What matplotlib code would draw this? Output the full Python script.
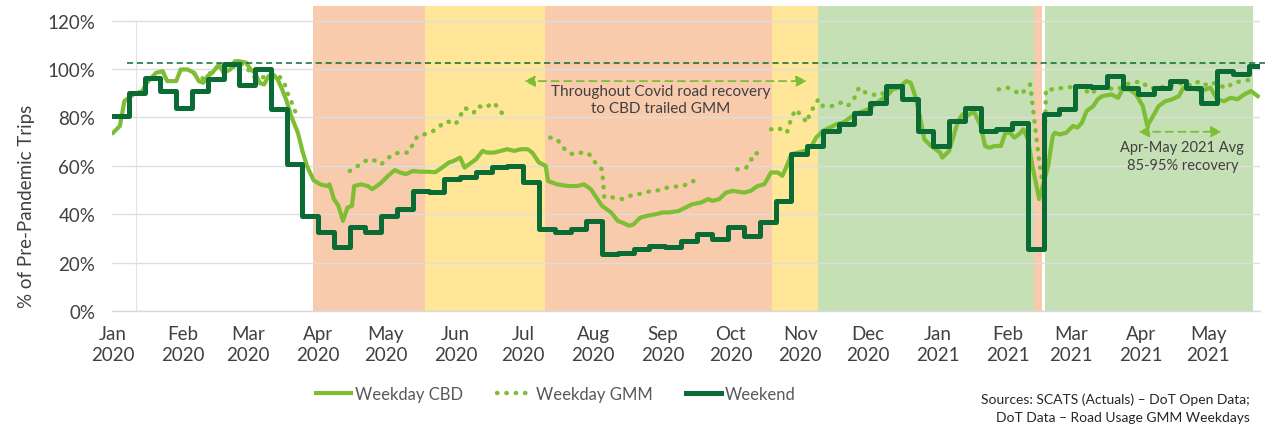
import numpy as np
import pandas as pd
import matplotlib
matplotlib.use("Agg")
import matplotlib.pyplot as plt
from matplotlib.lines import Line2D

plt.rcParams['font.family'] = ['Lato', 'DejaVu Sans']

START = pd.Timestamp('2020-01-01')

# Weekday CBD, day offset from 1 Jan 2020 and % of pre-pandemic trips
cbd_days = [
    0, 3, 5, 9, 13, 15, 19, 22, 24, 28,
    30, 33, 36, 38, 40, 42, 44, 47, 49, 52,
    54, 56, 59, 61, 63, 65, 67, 69, 71, 73,
    75, 77, 79, 82, 84, 86, 89, 92, 95, 96,
    98, 100, 102, 104, 106, 107, 110, 113, 115, 117,
    119, 122, 125, 127, 130, 133, 136, 140, 143, 146,
    149, 151, 154, 156, 158, 161, 164, 166, 169, 172,
    175, 178, 181, 184, 186, 189, 192, 193, 197, 202,
    206, 209, 212, 215, 217, 221, 224, 226, 229, 231,
    234, 237, 241, 244, 247, 251, 254, 257, 261, 264,
    266, 269, 272, 275, 280, 283, 286, 289, 292, 295,
    297, 299, 301, 304, 307, 310, 312, 315, 318, 321,
    324, 327, 331, 335, 337, 340, 344, 346, 349, 352,
    354, 356, 358, 360, 363, 365, 367, 368, 371, 373,
    375, 377, 379, 382, 385, 387, 389, 391, 394, 396,
    398, 400, 402, 404, 406, 408, 411, 415, 417, 418,
    420, 423, 426, 428, 430, 432, 435, 437, 439, 443,
    446, 448, 451, 454, 457, 459, 462, 464, 467, 470,
    473, 475, 478, 481, 483, 487, 490, 493, 496, 499,
    502, 505, 508]
cbd_vals = [
    73.7, 76.5, 86.8, 89.5, 90.9, 94.3, 98.4, 99.1, 95.0, 95.0,
    99.8, 99.8, 98.4, 95.0, 94.3, 97.1, 98.4, 101.9, 98.4, 99.8,
    103.2, 103.2, 102.6, 99.8, 98.4, 94.3, 93.6, 97.1, 97.8, 95.7,
    91.6, 86.8, 80.6, 73.7, 66.2, 60.0, 54.0, 52.4, 51.7, 52.4,
    46.3, 43.5, 37.3, 42.8, 43.5, 51.7, 52.4, 51.7, 50.4, 51.7,
    53.1, 55.9, 58.3, 57.4, 56.6, 57.9, 57.6, 57.6, 57.4, 59.3,
    61.4, 62.0, 63.4, 59.3, 60.7, 62.7, 66.2, 65.5, 65.5, 66.2,
    66.9, 66.2, 66.9, 66.9, 65.5, 61.4, 60.0, 53.8, 52.4, 51.7,
    51.7, 52.4, 50.4, 46.3, 43.5, 40.8, 37.3, 36.6, 35.3, 35.9,
    38.7, 39.4, 40.1, 40.8, 40.8, 41.4, 42.8, 44.2, 44.9, 46.3,
    45.6, 46.3, 49.0, 49.7, 49.0, 49.7, 51.7, 52.4, 57.3, 57.3,
    55.9, 60.0, 64.8, 65.5, 66.2, 68.2, 71.7, 74.4, 75.8, 77.2,
    77.9, 79.9, 82.0, 83.3, 84.7, 86.7, 89.5, 91.6, 92.3, 95.0,
    94.3, 88.8, 80.6, 71.0, 68.2, 66.9, 65.5, 63.4, 66.2, 72.3,
    78.5, 81.3, 80.6, 82.6, 76.5, 68.2, 67.5, 68.2, 68.2, 73.7,
    73.7, 71.7, 73.0, 75.1, 71.0, 60.0, 46.3, 60.0, 72.3, 73.7,
    73.0, 73.7, 76.5, 75.8, 77.9, 82.6, 84.7, 87.5, 88.8, 89.5,
    88.1, 91.6, 91.6, 89.5, 84.7, 76.5, 81.3, 84.7, 86.7, 87.5,
    88.8, 92.3, 92.3, 91.6, 90.9, 92.3, 87.5, 86.7, 88.1, 87.5,
    89.5, 90.9, 88.8]

# Weekday GMM (gaps where no data)
nan = np.nan
gmm_days = [
    36, 40, 44, 47, 52, 56, 59, 62, 65, 69, 73, 76, 77, 79, 81, 90,
    105, 111, 113, 117, 119, 124, 127, 131, 133, 135, 138, 142, 145, 148,
    152, 154, 156, 160, 162, 165, 169, 173, 175, 185,
    194, 197, 201, 204, 208, 211, 215, 217, 218, 222, 226, 229, 233, 236,
    239, 243, 246, 250, 253, 257, 261, 270,
    277, 281, 282, 285, 288, 290,
    292, 295, 299, 300, 301, 303, 308, 309, 313, 315, 319, 323, 326, 329,
    331, 334, 337, 340, 345, 349, 352, 370,
    393, 397, 400, 403, 406, 407, 411, 413, 414, 417, 422, 426, 429, 434,
    437, 442, 446, 449, 453, 456, 460, 465, 469, 475, 479, 482, 486, 489,
    494, 497, 501, 505]
gmm_vals = [
    98.0, 96.0, 99.0, 101.5, 100.0, 102.5, 101.0, 97.0, 96.0, 97.5, 97.8, 94.3, 90.9, 86.8, 82.0, nan,
    57.9, 61.4, 62.7, 62.1, 60.7, 64.8, 65.5, 65.5, 68.9, 72.3, 73.0, 74.4, 76.5, 78.5,
    77.2, 80.6, 84.0, 81.9, 84.7, 84.0, 86.1, 81.3, 83.3, nan,
    71.7, 71.0, 66.2, 64.8, 65.5, 65.2, 60.0, 58.6, 47.0, 47.0, 46.3, 47.6, 48.3, 49.0,
    49.7, 50.0, 51.1, 51.5, 51.7, 53.8, 53.1, nan,
    58.6, 59.3, 60.7, 65.5, 64.1, nan,
    75.1, 75.8, 73.7, 76.5, 79.9, 83.3, 77.9, 81.3, 87.5, 84.7, 84.7, 86.1, 84.7, 88.1,
    92.3, 90.2, 89.5, 89.0, 92.0, 93.0, 94.0, nan,
    91.6, 92.3, 90.9, 89.5, 92.9, 93.6, 62.0, 49.7, 91.6, 91.6, 92.3, 92.6, 93.0, 89.5,
    92.3, 92.0, 91.6, 93.6, 94.3, 95.0, 92.0, 92.5, 93.0, 94.3, 93.0, 95.0, 93.0, 94.3,
    92.0, 94.3, 95.0, 95.6]

# Weekend, one value per week starting 1 Jan 2020
weekend_vals = [
    80.6, 90.2, 96.4, 90.9, 84.0, 90.9, 96.0, 101.9, 93.6, 99.8,
    83.3, 60.7, 39.5, 32.6, 26.5, 34.7, 32.6, 39.4, 42.1, 49.7,
    49.1, 54.5, 55.5, 57.3, 59.4, 60.0, 53.2, 33.9, 32.6, 33.9,
    37.3, 23.6, 24.0, 25.7, 27.0, 26.5, 29.1, 31.8, 29.8, 34.6,
    31.1, 36.7, 45.6, 64.8, 68.2, 74.4, 77.2, 82.0, 86.1, 92.9,
    87.5, 74.4, 68.2, 78.5, 84.0, 74.4, 75.1, 77.9, 25.7, 81.3,
    83.3, 92.9, 92.5, 97.1, 92.3, 89.5, 92.3, 95.0, 92.3, 86.1,
    99.1, 97.8, 101.2]
weekend_last_day = 509

pre_pandemic_peak = 102.3

# restriction periods (start, end, level)
periods = [
    ('2020-03-29 14:00', '2020-05-18 12:00', 'orange'),
    ('2020-05-18 12:00', '2020-07-10 16:00', 'yellow'),
    ('2020-07-10 16:00', '2020-10-19 12:00', 'orange'),
    ('2020-10-19 12:00', '2020-11-09 00:00', 'yellow'),
    ('2020-11-09 00:00', '2021-02-12 12:00', 'green'),
    ('2021-02-12 12:00', '2021-02-16 08:00', 'orange'),
    ('2021-02-17 16:00', '2021-05-21 00:00', 'green'),
]
shade = {'orange': '#F8CBAD', 'yellow': '#FFE699', 'green': '#C5E0B4'}

months = pd.date_range('2020-01-01', '2021-05-01', freq='MS')

LIGHT = '#7DBE34'
DARK = '#0B6B35'
GREY = '#595959'


def day(s):
    return (pd.Timestamp(s) - START) / pd.Timedelta(days=1)


fig = plt.figure(figsize=(12.81, 4.27), dpi=100)
ax = fig.add_axes([112 / 1281, 114.7 / 427, 1148 / 1281, 305.3 / 427])

for a, b, level in periods:
    ax.axvspan(day(a), day(b), color=shade[level], lw=0, zorder=0)

ax.axvline(10, ymax=120 / 126, color='#e3e3e3', lw=0.8, zorder=0.6)

ax.plot(cbd_days, cbd_vals, color=LIGHT, lw=3.0, zorder=3, solid_joinstyle='round')
ax.plot(gmm_days, gmm_vals, color=LIGHT, lw=3.2, ls=(0, (0.1, 2.0)),
        dash_capstyle='round', zorder=3)
wk_days = list(np.arange(len(weekend_vals)) * 7) + [weekend_last_day]
ax.step(wk_days, weekend_vals + [weekend_vals[-1]], where='post',
        color=DARK, lw=3.6, zorder=4)

ax.hlines(pre_pandemic_peak, 6, 511, colors=DARK, linestyles=(0, (4, 2.5)),
          lw=1.1, zorder=5, clip_on=False)

# annotations
ax.annotate('', xy=(308, 95), xytext=(182.4, 95),
            arrowprops=dict(arrowstyle='<|-|>', color=LIGHT, lw=1.3,
                            ls=(0, (4, 3)), mutation_scale=16,
                            shrinkA=0, shrinkB=0), zorder=6)
ax.text(243, 87.4, 'Throughout Covid road recovery\nto CBD trailed GMM',
        ha='center', va='center', fontsize=11, color='#404040', linespacing=1.35)

ax.annotate('', xy=(492, 74.1), xytext=(455, 74.1),
            arrowprops=dict(arrowstyle='<|-|>', color=LIGHT, lw=1.3,
                            ls=(0, (4, 3)), mutation_scale=16,
                            shrinkA=0, shrinkB=0), zorder=6)
ax.text(474.5, 64.2, 'Apr-May 2021 Avg\n85-95% recovery',
        ha='center', va='center', fontsize=10.5, color='#404040', linespacing=1.35)

# axes
ax.set_xlim(-0.5, 509)
ax.set_ylim(0, 126)
ax.set_yticks(range(0, 121, 20))
ax.set_yticklabels([f'{v}%' for v in range(0, 121, 20)])
ax.set_xticks([day(m) for m in months])
ax.set_xticklabels([f'{m:%b}\n{m:%Y}' for m in months])
ax.grid(axis='y', color='#dedede', lw=1.0)
ax.grid(axis='x', visible=False)
ax.tick_params(axis='both', length=0, labelsize=13.5, colors='#404040')
ax.tick_params(axis='y', pad=12)
ax.tick_params(axis='x', pad=10)
for t in ax.get_xticklabels():
    t.set_linespacing(1.3)
for side in ['top', 'right', 'left']:
    ax.spines[side].set_visible(False)
ax.spines['bottom'].set_color('#d9d9d9')
ax.spines['bottom'].set_linewidth(1.0)

fig.text(27 / 1281, 1 - 206 / 427, '% of Pre-Pandemic Trips', rotation=90,
         ha='center', va='center', fontsize=13.5, color='#404040')

handles = [
    Line2D([], [], color=LIGHT, lw=3.0),
    Line2D([], [], color=LIGHT, lw=3.2, ls=(0, (0.1, 2.0)), dash_capstyle='round'),
    Line2D([], [], color=DARK, lw=3.6),
]
fig.legend(handles, ['Weekday CBD', 'Weekday GMM', 'Weekend'],
           loc='center left', bbox_to_anchor=(316 / 1281, 1 - 395 / 427),
           ncol=3, frameon=False, fontsize=12, handlelength=2.1,
           handletextpad=0.25, columnspacing=2.0, borderpad=0,
           borderaxespad=0, labelcolor=GREY)

fig.text(1250 / 1281, 1 - 409 / 427,
         'Sources: SCATS (Actuals) – DoT Open Data;\nDoT Data – Road Usage GMM Weekdays',
         ha='right', va='center', fontsize=10, color='#262626', linespacing=1.6)

fig.savefig('out.png', dpi=100)
